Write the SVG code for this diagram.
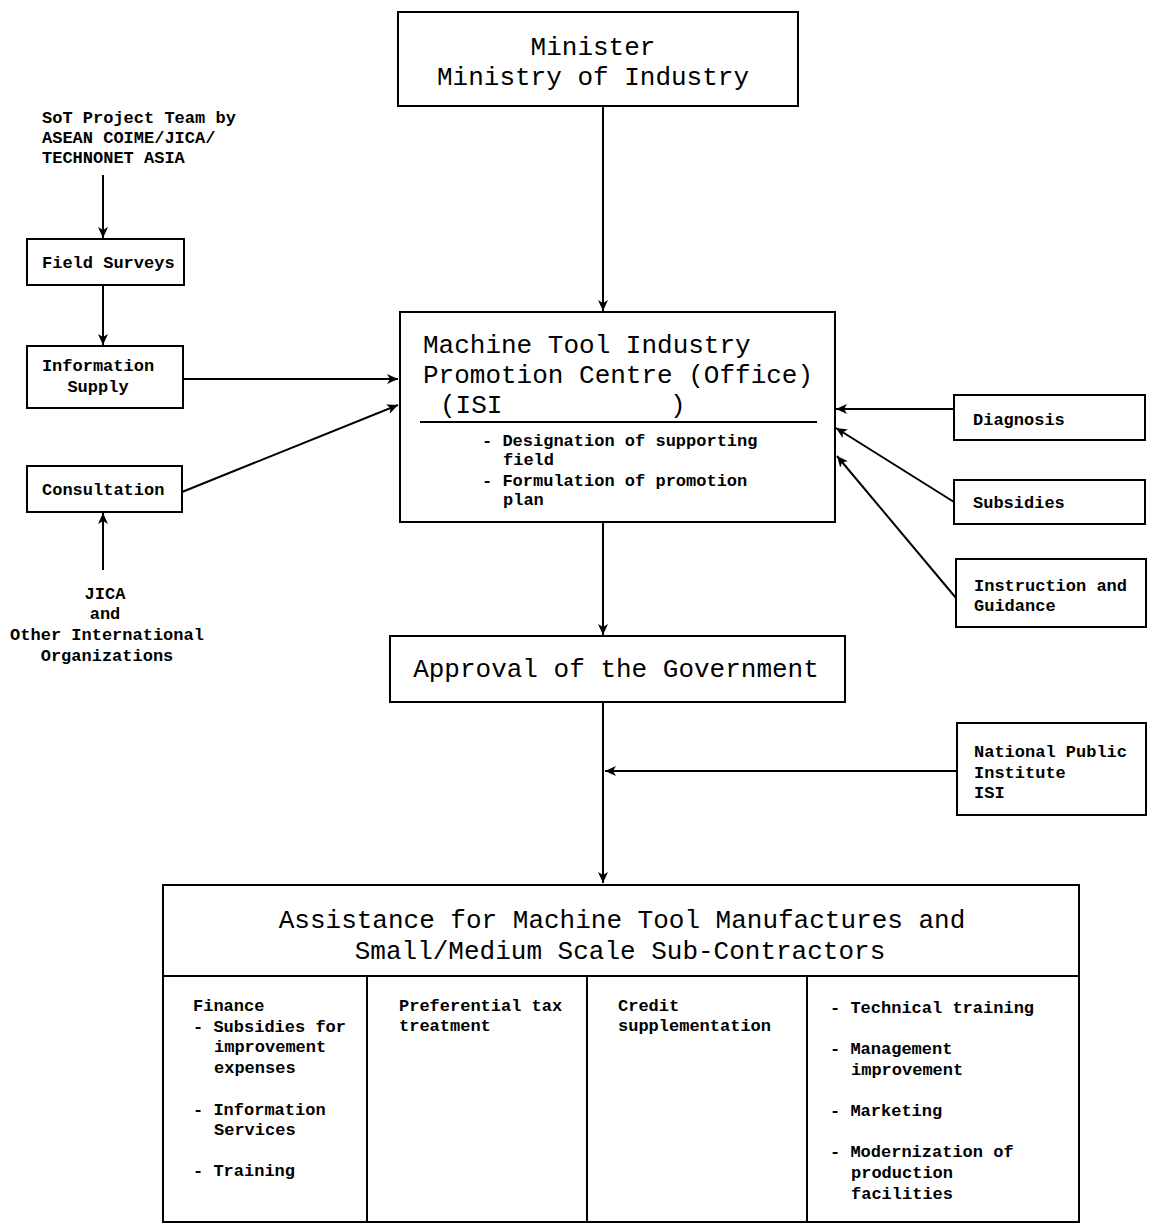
<svg xmlns="http://www.w3.org/2000/svg" width="1153" height="1226" viewBox="0 0 1153 1226">
<style>
.box{fill:#fff;stroke:#000;stroke-width:2}
.big{font-family:"Liberation Mono","DejaVu Sans Mono",monospace;font-size:26px;fill:#000}
.sm{font-family:"Liberation Mono","DejaVu Sans Mono",monospace;font-size:17px;font-weight:bold;fill:#000}
.ln{stroke:#000;stroke-width:2;fill:none}
.arr{stroke:#000;stroke-width:2;fill:none;marker-end:url(#ah)}
</style>
<defs>
<marker id="ah" markerUnits="userSpaceOnUse" markerWidth="12" markerHeight="10" refX="11" refY="5" orient="auto">
<path d="M0,0 L11,5 L0,10 L3,5 z" fill="#000"/>
</marker>
</defs>
<rect width="1153" height="1226" fill="#fff"/>

<g id="connectors">
<line class="arr" x1="603" y1="106" x2="603" y2="311"/>
<line class="arr" x1="603" y1="523" x2="603" y2="635"/>
<line class="arr" x1="603" y1="702" x2="603" y2="883"/>
<line class="arr" x1="957" y1="771" x2="605" y2="771"/>
<line class="arr" x1="103" y1="175" x2="103" y2="238"/>
<line class="arr" x1="103" y1="285" x2="103" y2="345"/>
<line class="arr" x1="183" y1="379" x2="398" y2="379"/>
<line class="arr" x1="182" y1="492" x2="398" y2="405"/>
<line class="arr" x1="103" y1="570" x2="103" y2="513"/>
<line class="arr" x1="954" y1="409" x2="836" y2="409"/>
<line class="arr" x1="954" y1="502" x2="836" y2="428"/>
<line class="arr" x1="956" y1="598" x2="837" y2="456"/>
</g>

<g id="minister">
<rect class="box" x="398" y="12" width="400" height="94"/>
<text class="big" x="593" y="55" text-anchor="middle">Minister</text>
<text class="big" x="593" y="85" text-anchor="middle">Ministry of Industry</text>
</g>

<g id="centre">
<rect class="box" x="400" y="312" width="435" height="210"/>
<text class="big" x="423" y="353">Machine Tool Industry</text>
<text class="big" x="423" y="383">Promotion Centre (Office)</text>
<text class="big" x="440" y="413">(ISI</text>
<text class="big" x="670" y="413">)</text>
<line class="ln" x1="420" y1="422" x2="817" y2="422"/>
<text class="sm" x="482" y="446">- Designation of supporting</text>
<text class="sm" x="503" y="465">field</text>
<text class="sm" x="482" y="486">- Formulation of promotion</text>
<text class="sm" x="503" y="505">plan</text>
</g>

<g id="approval">
<rect class="box" x="390" y="636" width="455" height="66"/>
<text class="big" x="616" y="677" text-anchor="middle">Approval of the Government</text>
</g>

<g id="sot-team">
<text class="sm" x="42" y="123">SoT Project Team by</text>
<text class="sm" x="42" y="143">ASEAN COIME/JICA/</text>
<text class="sm" x="42" y="163">TECHNONET ASIA</text>
</g>

<g id="field-surveys">
<rect class="box" x="27" y="239" width="157" height="46"/>
<text class="sm" x="42" y="268">Field Surveys</text>
</g>

<g id="information-supply">
<rect class="box" x="27" y="346" width="156" height="62"/>
<text class="sm" x="98" y="371" text-anchor="middle">Information</text>
<text class="sm" x="98" y="392" text-anchor="middle">Supply</text>
</g>

<g id="consultation">
<rect class="box" x="27" y="466" width="155" height="46"/>
<text class="sm" x="42" y="495">Consultation</text>
</g>

<g id="jica">
<text class="sm" x="105" y="599" text-anchor="middle">JICA</text>
<text class="sm" x="105" y="619" text-anchor="middle">and</text>
<text class="sm" x="107" y="640" text-anchor="middle">Other International</text>
<text class="sm" x="107" y="661" text-anchor="middle">Organizations</text>
</g>

<g id="diagnosis">
<rect class="box" x="954" y="395" width="191" height="45"/>
<text class="sm" x="973" y="425">Diagnosis</text>
</g>

<g id="subsidies">
<rect class="box" x="954" y="480" width="191" height="44"/>
<text class="sm" x="973" y="508">Subsidies</text>
</g>

<g id="instruction">
<rect class="box" x="956" y="559" width="190" height="68"/>
<text class="sm" x="974" y="591">Instruction and</text>
<text class="sm" x="974" y="611">Guidance</text>
</g>

<g id="national-public">
<rect class="box" x="957" y="723" width="189" height="92"/>
<text class="sm" x="974" y="757">National Public</text>
<text class="sm" x="974" y="778">Institute</text>
<text class="sm" x="974" y="798">ISI</text>
</g>

<g id="assistance">
<rect class="box" x="163" y="885" width="916" height="337"/>
<text class="big" x="622" y="928" text-anchor="middle">Assistance for Machine Tool Manufactures and</text>
<text class="big" x="620" y="959" text-anchor="middle">Small/Medium Scale Sub-Contractors</text>
<line class="ln" x1="163" y1="976" x2="1079" y2="976"/>
<line class="ln" x1="367" y1="976" x2="367" y2="1222"/>
<line class="ln" x1="587" y1="976" x2="587" y2="1222"/>
<line class="ln" x1="807" y1="976" x2="807" y2="1222"/>
<text class="sm" x="193" y="1011">Finance</text>
<text class="sm" x="193" y="1032">- Subsidies for</text>
<text class="sm" x="214" y="1052">improvement</text>
<text class="sm" x="214" y="1073">expenses</text>
<text class="sm" x="193" y="1115">- Information</text>
<text class="sm" x="214" y="1135">Services</text>
<text class="sm" x="193" y="1176">- Training</text>
<text class="sm" x="399" y="1011">Preferential tax</text>
<text class="sm" x="399" y="1031">treatment</text>
<text class="sm" x="618" y="1011">Credit</text>
<text class="sm" x="618" y="1031">supplementation</text>
<text class="sm" x="830" y="1013">- Technical training</text>
<text class="sm" x="830" y="1054">- Management</text>
<text class="sm" x="851" y="1075">improvement</text>
<text class="sm" x="830" y="1116">- Marketing</text>
<text class="sm" x="830" y="1157">- Modernization of</text>
<text class="sm" x="851" y="1178">production</text>
<text class="sm" x="851" y="1199">facilities</text>
</g>
</svg>
